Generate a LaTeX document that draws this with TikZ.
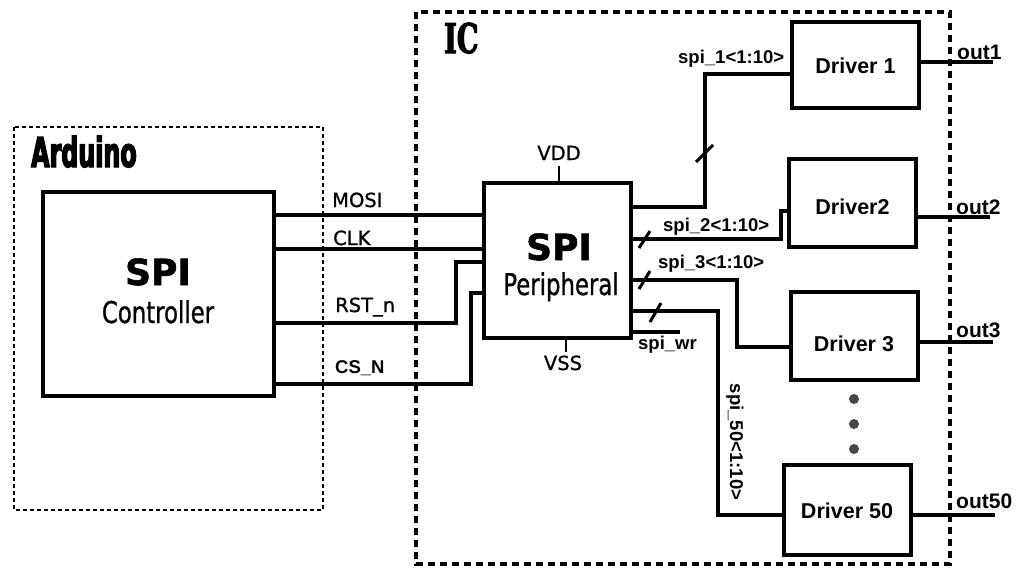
\documentclass[tikz,border=0pt]{standalone}
\usepackage{fontspec}
\setmainfont{Liberation Sans}
\newfontfamily\dv[FakeBold=0.9]{DejaVu Sans}
\newfontfamily\dvb[FakeBold=1.6]{DejaVu Sans}
\newfontfamily\dvn[FakeStretch=0.76,FakeBold=0.8]{DejaVu Sans}
\newfontfamily\ardf[FakeStretch=0.58,FakeBold=3]{DejaVu Sans}
\newfontfamily\icf[FakeStretch=0.66,FakeBold=2.5]{DejaVu Serif}
\begin{document}
\begin{tikzpicture}[x=1pt,y=-1pt,
  blk/.style={draw, line width=4pt, rectangle, inner sep=0pt},
  drv/.style={blk, minimum width=127pt, font=\fontsize{21.5}{24}\selectfont\bfseries, text depth=0pt},
  wire/.style={line width=4.2pt},
  thinw/.style={line width=2.6pt},
  tick/.style={line width=3pt},
  lbl/.style={inner sep=0pt, anchor=base west},
  sig/.style={lbl, font=\fontsize{18.5}{22}\selectfont\bfseries},
  pin/.style={inner sep=0pt, font=\dv\fontsize{19.5}{23}\selectfont},
  outl/.style={lbl, font=\fontsize{21}{24}\selectfont\bfseries},
  grp/.style={draw, line width=2pt, dash pattern=on 4pt off 3pt},
  icgrp/.style={draw, line width=3.6pt, dash pattern=on 7pt off 5pt}
]
\fill[white] (0,0) rectangle (1017,568);
\useasboundingbox (0,0) rectangle (1017,568);

% group frames
\draw[grp] (14,127) rectangle (323,510);
\draw[icgrp] (416,12) rectangle (950,564);
\node[lbl, font=\ardf\fontsize{41}{44}\selectfont\bfseries] (ard) at (31,167) {Arduino};
\node[lbl, font=\icf\fontsize{41}{44}\selectfont\bfseries] (ic) at (444,53) {IC};

% SPI controller
\node[blk, minimum width=231pt, minimum height=204pt] (ctrl) at (158.5,294) {};
\node[inner sep=0pt, anchor=base, font=\dvb\fontsize{36}{40}\selectfont\bfseries] (ctrlA) at (158,285) {SPI};
\node[inner sep=0pt, anchor=base, font=\dvn\fontsize{30}{34}\selectfont] (ctrlB) at (158,323) {Controller};

% SPI peripheral
\node[blk, minimum width=147pt, minimum height=155pt] (per) at (557.5,260.5) {};
\node[inner sep=0pt, anchor=base, font=\dvb\fontsize{36}{40}\selectfont\bfseries] (perA) at (559,260) {SPI};
\node[inner sep=0pt, anchor=base, font=\dvn\fontsize{30}{34}\selectfont] (perB) at (561,295) {Peripheral};

% supply pins
\coordinate (vddT) at (559,166);
\coordinate (vssB) at (566,352);
\draw[thinw] (per.north -| vddT) -- (vddT);
\draw[thinw] (per.south -| vssB) -- (vssB);
\node[pin, anchor=base] (vdd) at (559,160) {VDD};
\node[pin, anchor=base] (vss) at (563,370) {VSS};

% controller to peripheral
\draw[wire] (ctrl.east |- 0,215) -- (per.west |- 0,215);
\draw[wire] (ctrl.east |- 0,249) -- (per.west |- 0,249);
\draw[wire] (ctrl.east |- 0,323) -| (456,262) -- (per.west |- 0,262);
\draw[wire] (ctrl.east |- 0,384) -| (471,293) -- (per.west |- 0,293);
\node[pin, lbl] (mosi) at (332,207) {MOSI};
\node[pin, lbl] (clk) at (333,245) {CLK};
\node[pin, lbl] (rst) at (335,312) {RST\_n};
\node[sig, font=\fontsize{18.5}{22}\selectfont\bfseries] (cs) at (335,373) {CS\_N};

% drivers
\node[drv, minimum height=86pt, text height=16pt] (d1) at (855.5,65) {Driver 1};
\node[drv, minimum height=88pt, text height=22pt] (d2) at (852.5,203) {Driver2};
\node[drv, minimum height=88pt, text height=30pt] (d3) at (854,336) {Driver 3};
\node[drv, minimum height=90pt, text height=16pt] (d50) at (847,510) {Driver 50};

% buses
\draw[wire] (per.east |- 0,207) -| (705,74) -- (d1.west |- 0,74);
\draw[tick] (696,162) -- (713,145);
\node[sig] (s1) at (678,63) {spi\_1<1:10>};

\draw[wire] (per.east |- 0,239) -| (781,211) -- (d2.west |- 0,211);
\draw[tick] (639,248) -- (650,231);
\node[sig] (s2) at (663,231) {spi\_2<1:10>};

\draw[wire] (per.east |- 0,280) -| (737,347) -- (d3.west |- 0,347);
\draw[tick] (639,289) -- (650,271);
\node[sig] (s3) at (658,268) {spi\_3<1:10>};

\draw[wire] (per.east |- 0,311) -| (718,515) -- (d50.west |- 0,515);
\draw[tick] (650,322) -- (661,303);
\node[sig, anchor=center, rotate=-90] (s50) at (735,442) {spi\_50<1:10>};

\coordinate (wrE) at (680,332);
\draw[wire] (per.east |- wrE) -- (wrE);
\node[sig] (swr) at (638,349) {spi\_wr};

% outputs
\coordinate (o1) at (993,62);
\coordinate (o2) at (990,217);
\coordinate (o3) at (993,342);
\coordinate (o50) at (995,515);
\draw[wire] (d1.east |- o1) -- (o1);
\draw[wire] (d2.east |- o2) -- (o2);
\draw[wire] (d3.east |- o3) -- (o3);
\draw[wire] (d50.east |- o50) -- (o50);
\node[outl] (out1) at (957,59) {out1};
\node[outl] (out2) at (956,214) {out2};
\node[outl] (out3) at (956,337) {out3};
\node[outl] (out50) at (956,508) {out50};

% ellipsis dots
\fill[black!72] (854,399) circle (5pt) (854,424) circle (5pt) (854,449) circle (5pt);
\end{tikzpicture}
\end{document}
